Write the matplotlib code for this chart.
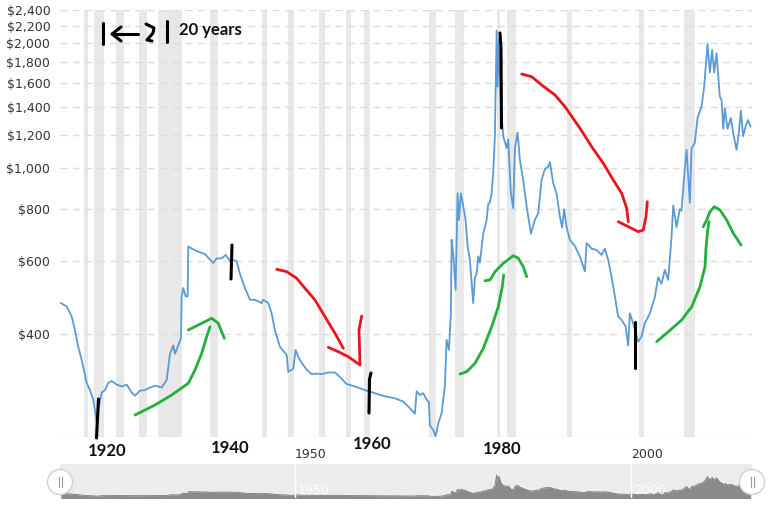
import numpy as np
import matplotlib.pyplot as plt
from matplotlib.ticker import NullLocator
from matplotlib.patches import Circle

# gold price, inflation adjusted
years = [1915.15, 1916.0, 1916.74, 1917.23, 1917.72, 1918.23, 1918.97, 1919.46, 1919.96, 1920.46,
         1920.70, 1921.21, 1921.70, 1922.19, 1922.69, 1923.44, 1924.18, 1924.93, 1925.67, 1926.16,
         1926.90, 1927.65, 1928.39, 1929.14, 1929.63, 1930.13, 1930.88, 1931.37, 1931.86, 1932.11,
         1932.60, 1933.01, 1933.11, 1933.35, 1933.71, 1934.00, 1934.09, 1934.60, 1935.58, 1936.58,
         1937.32, 1937.81, 1938.32, 1939.06, 1939.66, 1940.30, 1940.55, 1941.29, 1941.79, 1942.53,
         1943.27, 1944.02, 1945.01, 1945.25, 1946.00, 1946.50, 1946.99, 1947.74, 1948.74, 1948.97,
         1949.72, 1950.07, 1950.46, 1950.97, 1951.71, 1952.46, 1953.20, 1953.94, 1954.93, 1955.92,
         1956.67, 1957.66, 1958.90, 1960.39, 1961.88, 1963.36, 1964.85, 1966.09, 1967.08, 1967.83,
         1968.08, 1968.57, 1969.06, 1969.57, 1969.91, 1970.06, 1970.55, 1970.91, 1971.29, 1971.80,
         1972.29, 1972.54, 1972.89, 1973.18, 1973.29, 1973.53, 1973.88, 1974.18, 1974.38, 1974.67,
         1975.02, 1975.37, 1975.67, 1976.01, 1976.50, 1976.76, 1977.01, 1977.25, 1977.50, 1977.99,
         1978.50, 1978.74, 1978.99, 1979.24, 1979.48, 1979.73, 1979.99, 1980.13, 1980.33, 1980.63,
         1980.97, 1981.47, 1981.71, 1982.11, 1982.46, 1982.71, 1983.11, 1983.45, 1983.94, 1984.45,
         1985.09, 1985.68, 1986.18, 1986.68, 1987.17, 1987.66, 1987.92, 1988.41, 1988.91, 1989.40,
         1989.74, 1990.04, 1990.40, 1990.89, 1991.64, 1992.38, 1993.13, 1993.38, 1994.12, 1994.87,
         1995.61, 1996.10, 1996.59, 1997.10, 1997.59, 1998.08, 1998.59, 1999.18, 1999.57, 1999.82,
         2000.31, 2001.06, 2001.56, 2002.05, 2002.80, 2003.54, 2004.03, 2004.54, 2005.03, 2005.52,
         2006.03, 2006.27, 2006.77, 2007.26, 2007.51, 2008.00, 2008.26, 2008.50, 2008.75, 2009.00,
         2009.49, 2009.90, 2010.49, 2010.88, 2011.38, 2011.73, 2012.07, 2012.37, 2012.72, 2013.21,
         2013.47, 2013.71, 2013.96, 2014.36, 2014.85, 2015.19, 2015.70, 2016.04, 2016.34, 2016.68,
         2017.04, 2017.42, 2017.78]
prices = [474, 465, 440, 408, 372, 346, 305, 293, 278, 246,
          263, 289, 293, 305, 308, 302, 299, 302, 289, 284,
          292, 293, 297, 300, 299, 297, 310, 358, 375, 358,
          375, 391, 492, 515, 492, 492, 649, 641, 630, 622,
          603, 592, 607, 607, 619, 598, 603, 598, 557, 515,
          483, 483, 474, 483, 474, 448, 408, 372, 356, 324,
          330, 366, 352, 341, 328, 320, 321, 320, 323, 323,
          315, 303, 299, 293, 288, 283, 280, 275, 265, 257,
          291, 285, 288, 278, 274, 241, 235, 227, 243, 258,
          299, 387, 366, 448, 673, 625, 510, 870, 751, 870,
          811, 751, 650, 603, 474, 547, 557, 614, 593, 696,
          751, 821, 827, 870, 974, 1194, 2140, 1570, 2040, 1405,
          1194, 1118, 1173, 870, 802, 1118, 1218, 1047, 937, 811,
          696, 751, 779, 937, 996, 1007, 1035, 921, 870, 766,
          720, 797, 722, 673, 650, 614, 565, 661, 641, 636,
          619, 641, 603, 547, 492, 440, 432, 417, 375, 448,
          424, 383, 394, 424, 448, 490, 547, 528, 570, 539,
          686, 814, 722, 797, 791, 996, 1107, 955, 827, 1118,
          1150, 1324, 1405, 1570, 1990, 1698, 1925, 1698, 1890, 1487,
          1459, 1244, 1391, 1244, 1320, 1218, 1107, 1218, 1375, 1194,
          1260, 1306, 1260]

# US recessions
rec_start = [1918.6, 1920.0, 1923.4, 1926.8, 1929.6, 1937.4, 1945.1, 1948.9, 1953.5, 1957.6,
             1960.3, 1969.9, 1973.8, 1980.0, 1981.5, 1990.5, 2001.2, 2007.9]
rec_end = [1919.2, 1921.5, 1924.5, 1927.9, 1933.2, 1938.5, 1945.8, 1949.8, 1954.4, 1958.3,
           1961.1, 1970.9, 1975.2, 1980.5, 1982.9, 1991.2, 2001.9, 2009.5]

y_ticks = [400, 600, 800, 1000, 1200, 1400, 1600, 1800, 2000, 2200, 2400]
y_labels = ['$400', '$600', '$800', '$1,000', '$1,200', '$1,400', '$1,600',
            '$1,800', '$2,000', '$2,200', '$2,400']
x_ticks = [1950, 2000]

# hand drawn marks on top of the chart (pixel coords)
hand_years = ['1920', '1940', '1960', '1980']
hand_year_pos = [(107, 451), (230, 448), (372, 444), (502, 449)]
black_ink = [
    ([98.5, 96.5], [399, 438]),
    ([232, 231], [245, 279]),
    ([371, 369.5, 369], [373, 379, 413]),
    ([500, 501, 501.5], [33, 48, 128]),
    ([635, 635], [322, 368]),
    ([103, 103], [23, 44]),
    ([113, 138], [34, 34]),
    ([121, 112, 121], [27, 34, 41]),
    ([146, 154, 153, 147, 152], [24, 28, 33, 40, 41]),
    ([167, 167], [21, 42]),
]
green_ink = [
    ([135, 155, 171.7, 188.3, 195, 201.7, 206.7, 210], [415, 405, 395, 383.3, 370, 353.3, 336.7, 326.7]),
    ([188.3, 198.3, 211.7, 218.3, 224.3], [330, 325, 318.3, 323.3, 338.3]),
    ([460, 466.7, 475, 483.3, 491.7, 498.3, 502.3, 503.7], [374, 371.7, 363.3, 348.3, 326.7, 306.7, 286.7, 275]),
    ([485, 490, 495, 503.3, 513.3, 518.3, 523.3, 526.7], [280.7, 280, 271.7, 263.3, 255.7, 258.3, 266.7, 276.7]),
    ([656.7, 668.3, 681.7, 691.7, 700, 705, 706, 707.7, 709], [341.7, 331.7, 320, 306.7, 286.7, 266.7, 248.3, 230, 221.7]),
    ([703.3, 706.7, 710, 714.3, 720, 726.7, 733.3, 741], [226.7, 220, 211.7, 206.7, 210, 220, 233.3, 245]),
]
red_ink = [
    ([276.7, 286.7, 296.7, 305, 315, 325, 335, 343.3], [269.3, 271.7, 278.3, 288.3, 300, 316.7, 333.3, 348.3]),
    ([328.3, 338.3, 348.3, 360, 359, 361.7], [347.3, 351.7, 356.7, 365, 330, 316]),
    ([521.7, 531.7, 541.7, 555, 565, 580, 591.7, 603.3, 613.3, 621.7, 626.7, 628.3],
     [74, 76.7, 85, 95, 106.7, 128.3, 146.7, 163.3, 180, 193.3, 208.3, 221.7]),
    ([618.3, 628.3, 638.3, 643.3, 646, 647.3], [221.7, 226.7, 231.7, 230, 216.7, 201.7]),
]

W, H = 768, 507
fig = plt.figure(figsize=(W / 100, H / 100), dpi=100)
fig.patch.set_facecolor('white')

ax = fig.add_axes([60 / W, (H - 437) / H, 692 / W, 427 / H])
ax.set_yscale('log')
ax.set_xlim(1915, 2018)
ax.set_ylim(226, 2400)
for s, e in zip(rec_start, rec_end):
    ax.axvspan(s, e, color='#e8e8e8', lw=0, zorder=0)
for t in y_ticks + [226]:
    ax.axhline(t, color='#dcdcdc', lw=1, ls=(0, (5, 4)), zorder=1)
ax.plot(years, prices, color='#5b9bd5', lw=1.3, zorder=3)
ax.set_yticks(y_ticks, y_labels)
ax.yaxis.set_minor_locator(NullLocator())
ax.set_xticks(x_ticks, [str(x) for x in x_ticks])
for lab in ax.get_xticklabels():
    lab.set_horizontalalignment('left')
ax.tick_params(axis='both', length=0, labelsize=9, labelcolor='#333333')
ax.tick_params(axis='y', pad=7)
ax.tick_params(axis='x', pad=8)
for sp in ax.spines.values():
    sp.set_visible(False)

# navigator
nav = fig.add_axes([60 / W, (H - 498) / H, 692 / W, 34 / H])
nav.set_facecolor('#ececec')
nav.set_xlim(1915, 2018)
nav.set_ylim(84, 3124)
nav.fill_between(years, prices, 0, color='#8a8a8a', lw=0)
nav.plot(years, prices, color='#7a7a7a', lw=0.6)
for x in x_ticks:
    nav.axvline(x, color='white', lw=1)
    nav.text(x + 0.4, 720, str(x), color='white', fontsize=9, va='center', ha='left')
nav.set_xticks([])
nav.set_yticks([])
for sp in nav.spines.values():
    sp.set_visible(False)

# overlay for hand drawings
ink = fig.add_axes([0, 0, 1, 1], facecolor='none')
ink.set_xlim(0, W)
ink.set_ylim(H, 0)
ink.axis('off')
for xs, ys in black_ink:
    ink.plot(xs, ys, color='black', lw=2.2, solid_capstyle='round')
for xs, ys in green_ink:
    ink.plot(xs, ys, color='#22b03a', lw=2.0, solid_capstyle='round')
for xs, ys in red_ink:
    ink.plot(xs, ys, color='#e8161b', lw=2.0, solid_capstyle='round')
ink.text(179, 30, '20 years', fontsize=12, fontweight='bold', family='Lato',
         va='center', ha='left', color='#111111')
for lab, (x, y) in zip(hand_years, hand_year_pos):
    ink.text(x, y, lab, fontsize=12, fontweight='bold', family='Lato',
             va='center', ha='center', color='#111111')

for hx in [60, 752]:
    ink.add_patch(Circle((hx, 482), 12.5, facecolor='white', edgecolor='#d0d0d0', lw=1, zorder=5))
    ink.plot([hx - 1.5, hx - 1.5], [477, 487], color='#999999', lw=0.8, zorder=6)
    ink.plot([hx + 1.5, hx + 1.5], [477, 487], color='#999999', lw=0.8, zorder=6)

fig.savefig('out.png', dpi=100)
